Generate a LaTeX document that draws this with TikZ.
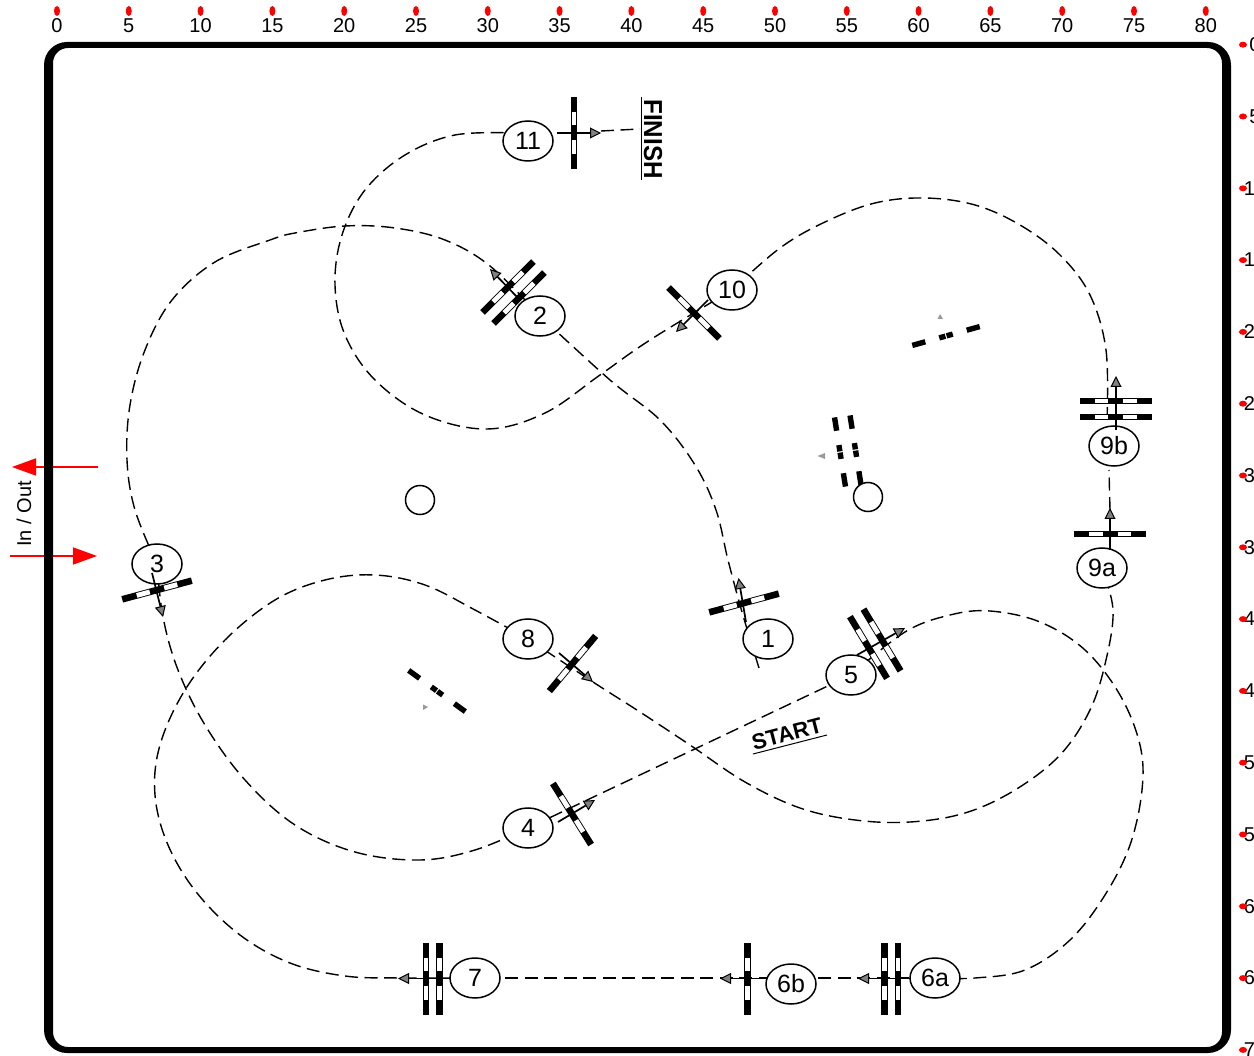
\documentclass[tikz,border=0pt]{standalone}
\usepackage{fontspec}
\setmainfont{Liberation Sans}
\usetikzlibrary{shapes.geometric,arrows.meta}
\pgfdeclarelayer{bg}
\pgfsetlayers{bg,main}
\definecolor{tipgrey}{HTML}{808080}
\definecolor{hintgrey}{HTML}{9A9A9A}
\tikzset{
  numnode/.style={ellipse,draw=black,fill=white,line width=1.5pt,minimum width=50pt,minimum height=40pt,inner sep=0pt,font=\fontsize{25}{25}\selectfont},
  obstacle/.style={circle,draw=black,fill=white,line width=1.5pt,minimum size=29pt,inner sep=0pt},
  course/.style={draw=black,line width=1.4pt,dash pattern=on 13pt off 6.5pt},
  gatearrow/.style={draw=black,line width=1.7pt,-{Triangle[length=11pt,width=11pt,fill=tipgrey,line width=1pt]}},
  redarrow/.style={draw=red,line width=1.5pt,-{Triangle[length=24pt,width=17pt,fill=red]}},
  ticktop/.style={ellipse,fill=red,minimum width=6pt,minimum height=10pt,inner sep=0pt},
  tickright/.style={ellipse,fill=red,minimum width=8pt,minimum height=6pt,inner sep=0pt},
  ticklabel/.style={inner sep=0pt,font=\fontsize{20}{20}\selectfont},
  hint/.style={fill=hintgrey,draw=none}
}
\newcommand{\gatebar}[3]{%
  \begin{scope}[shift={(#1,#2)},rotate=#3]
    \fill[black] (-36,-3.3) rectangle (36,3.3);
    \fill[white] (-21,-2.4) rectangle (-7.5,2.4);
    \fill[white] (7.5,-2.4) rectangle (21,2.4);
  \end{scope}}
\newcommand{\ghostbar}[3]{%
  \begin{scope}[shift={(#1,#2)},rotate=#3]
    \fill[black] (-35,-2.7) rectangle (-21.5,2.7);
    \fill[black] (21.5,-2.7) rectangle (35,2.7);
    \fill[black] (-7,-2.7) rectangle (-0.6,2.7);
    \fill[black] (0.6,-2.7) rectangle (7,2.7);
  \end{scope}}
\begin{document}
\begin{tikzpicture}[x=1pt,y=-1pt]
\useasboundingbox (0,0) rectangle (1254,1056);

% ring
\fill[black,even odd rule,rounded corners=23pt] (44,42) rectangle (1231,1053)
  [rounded corners=15pt] (53,48) rectangle (1222,1047);

% ticks
\foreach \i in {0,5,...,80}{
  \pgfmathsetmacro{\xx}{57+\i*14.36}
  \node[ticktop] (tt\i) at (\xx,11) {};
  \node[ticklabel] (tl\i) at (\xx,26) {\i};
}
\foreach \i in {0,5,...,70}{
  \pgfmathsetmacro{\yy}{44.7+\i*14.36}
  \node[ticklabel,anchor=center] (rl\i) at (1255,\yy) {\i};
  \node[tickright] (rt\i) at (1243,\yy) {};
}

% numbered nodes
\node[numnode] (n11) at (528,141) {11};
\node[numnode] (n2) at (540,316) {2};
\node[numnode] (n10) at (732,290) {10};
\node[numnode] (n9b) at (1114,446) {9b};
\node[numnode] (n9a) at (1102,568) {9a};
\node[numnode] (n3) at (157,564) {3};
\node[numnode] (n8) at (528,639) {8};
\node[numnode] (n1) at (768,639) {1};
\node[numnode] (n5) at (851,675) {5};
\node[numnode] (n4) at (528,828) {4};
\node[numnode] (n7) at (475,978) {7};
\node[numnode] (n6b) at (791,984) {6b};
\node[numnode] (n6a) at (935,978) {6a};
\node[obstacle] (ob1) at (420,500) {};
\node[obstacle] (ob2) at (868,497) {};

% labels
\node[inner sep=0pt,rotate=-90,xscale=0.93,font=\fontsize{26}{26}\selectfont\bfseries] (finish) at (653,139) {FINISH};
\node[inner sep=0pt,rotate=14.5,font=\fontsize{22}{22}\selectfont\bfseries] (start) at (787,734) {START};
\node[inner sep=0pt,rotate=90,font=\fontsize{20}{20}\selectfont] (inout) at (24,514) {In / Out};
\coordinate (fa) at (641.5,97); \coordinate (fb) at (641.5,180);
\coordinate (sa) at (753,754); \coordinate (sb) at (827,735);
\draw[line width=1pt] (fa) -- (fb);
\draw[line width=1pt] (sa) -- (sb);

\begin{pgfonlayer}{bg}
  \fill[white] (0,0) rectangle (1254,1056);
  % in / out arrows
  \coordinate (oa) at (98,467); \coordinate (ob) at (12,467);
  \coordinate (ia) at (10,556); \coordinate (ib) at (97,556);
  \draw[redarrow] (oa) -- (ob);
  \draw[redarrow] (ia) -- (ib);

  % course
  \coordinate (startpt) at (759,668);
  \draw[course] plot[smooth,tension=0.6] coordinates {(startpt) (742,612) (728,560) (716,510) (695,465) (660,420) (610,380) (n2)};
  \draw[course] plot[smooth,tension=0.6] coordinates {(n2) (490,266) (445,240) (395,228) (345,226) (295,233) (270,240) (215,262) (172,300) (145,350) (130,405) (127,460) (135,510) (n3)};
  \draw[course] plot[smooth,tension=0.6] coordinates {(n3) (163,617) (178,670) (205,725) (245,780) (295,825) (355,852) (420,860) (475,850) (n4)};
  \draw[course] (n4) -- (n5);
  \draw[course] plot[smooth,tension=0.6] coordinates {(n5) (905,632) (950,615) (990,611) (1040,622) (1085,650) (1120,695) (1140,745) (1142,790) (1130,845) (1105,895) (1070,940) (1025,970) (975,978) (n6a)};
  \coordinate (via6b) at (791,978);
  \draw[course] (n6a) -- (via6b);
  \draw[course] (via6b) -- (n7);
  \draw[course] plot[smooth,tension=0.6] coordinates {(n7) (400,978) (345,976) (290,963) (240,935) (197,893) (168,845) (155,795) (160,745) (185,690) (225,640) (275,600) (325,580) (375,575) (425,585) (475,610) (n8)};
  \draw[course] plot[smooth,tension=0.6] coordinates {(n8) (593,682) (640,712) (690,745) (745,782) (800,808) (855,820) (910,822) (965,813) (1015,790) (1060,755) (1090,710) (1106,660) (1113,610) (n9a)};
  \coordinate (c9a) at (1110,510); \coordinate (c9b) at (1109,470);
  \draw[course] (c9a) -- (c9b);
  \coordinate (c9t) at (1107,420);
  \draw[course] plot[smooth,tension=0.6] coordinates {(c9t) (1106,350) (1090,295) (1060,255) (1020,225) (975,205) (925,198) (875,203) (825,222) (780,248) (n10)};
  \coordinate (c11) at (515,133);
  \draw[course] plot[smooth,tension=0.6] coordinates {(n10) (650,340) (600,375) (545,413) (487,429) (425,415) (375,380) (345,335) (335,285) (342,235) (365,190) (405,155) (455,135) (c11)};
  \coordinate (c11r) at (601,131); \coordinate (c11f) at (640,129);
  \draw[course] (c11r) -- (c11f);

  % gates
  \gatebar{574}{133}{90}
  \gatebar{508}{287}{45}
  \gatebar{519}{298}{45}
  \gatebar{694}{313}{-45}
  \gatebar{1115.5}{401}{0}
  \gatebar{1115.5}{417}{0}
  \gatebar{1110}{534}{0}
  \gatebar{157}{590}{15}
  \gatebar{572.5}{663.5}{50}
  \gatebar{744}{603}{15}
  \gatebar{868.5}{647.5}{-59}
  \gatebar{882}{640}{-59}
  \gatebar{572}{814}{-58}
  \gatebar{426}{978.5}{90}
  \gatebar{439.5}{978.5}{90}
  \gatebar{747.5}{978.5}{90}
  \gatebar{884.5}{978.5}{90}
  \gatebar{898}{978.5}{90}

  % faint gates
  \ghostbar{946}{336}{15.6}
  \ghostbar{840}{452}{-81}
  \ghostbar{855.5}{450}{-81}
  \ghostbar{437}{691}{-36}
  \fill[hint] (937.5,319) -- (943,319) -- (940,314) -- cycle;
  \fill[hint] (817.5,456) -- (825,453) -- (825,459) -- cycle;
  \fill[hint] (423,704.5) -- (423,710) -- (428,707) -- cycle;
\end{pgfonlayer}

% gate arrows
\coordinate (g11a) at (557,133); \coordinate (g11b) at (601,133);
\coordinate (g2a) at (518,298); \coordinate (g2b) at (490,269);
\coordinate (g10a) at (708,300); \coordinate (g10b) at (676,332);
\coordinate (g9ba) at (1116,430); \coordinate (g9bb) at (1116,376);
\coordinate (g9aa) at (1110,550); \coordinate (g9ab) at (1110,508);
\coordinate (g3a) at (152,573); \coordinate (g3b) at (163,617);
\coordinate (g8a) at (559,653); \coordinate (g8b) at (593,682);
\coordinate (g1a) at (746,622); \coordinate (g1b) at (738.5,578);
\coordinate (g5a) at (857,655); \coordinate (g5b) at (905,628);
\coordinate (g4a) at (558,822); \coordinate (g4b) at (595,800);
\coordinate (g7a) at (445,978.5); \coordinate (g7b) at (398,978.5);
\coordinate (g6ba) at (766,978.5); \coordinate (g6bb) at (720,978.5);
\coordinate (g6aa) at (910,978.5); \coordinate (g6ab) at (858,978.5);
\foreach \p/\q in {g11a/g11b,g2a/g2b,g10a/g10b,g9ba/g9bb,g9aa/g9ab,g3a/g3b,g8a/g8b,g1a/g1b,g5a/g5b,g4a/g4b,g7a/g7b,g6ba/g6bb,g6aa/g6ab}
  \draw[gatearrow] (\p) -- (\q);
\end{tikzpicture}
\end{document}
